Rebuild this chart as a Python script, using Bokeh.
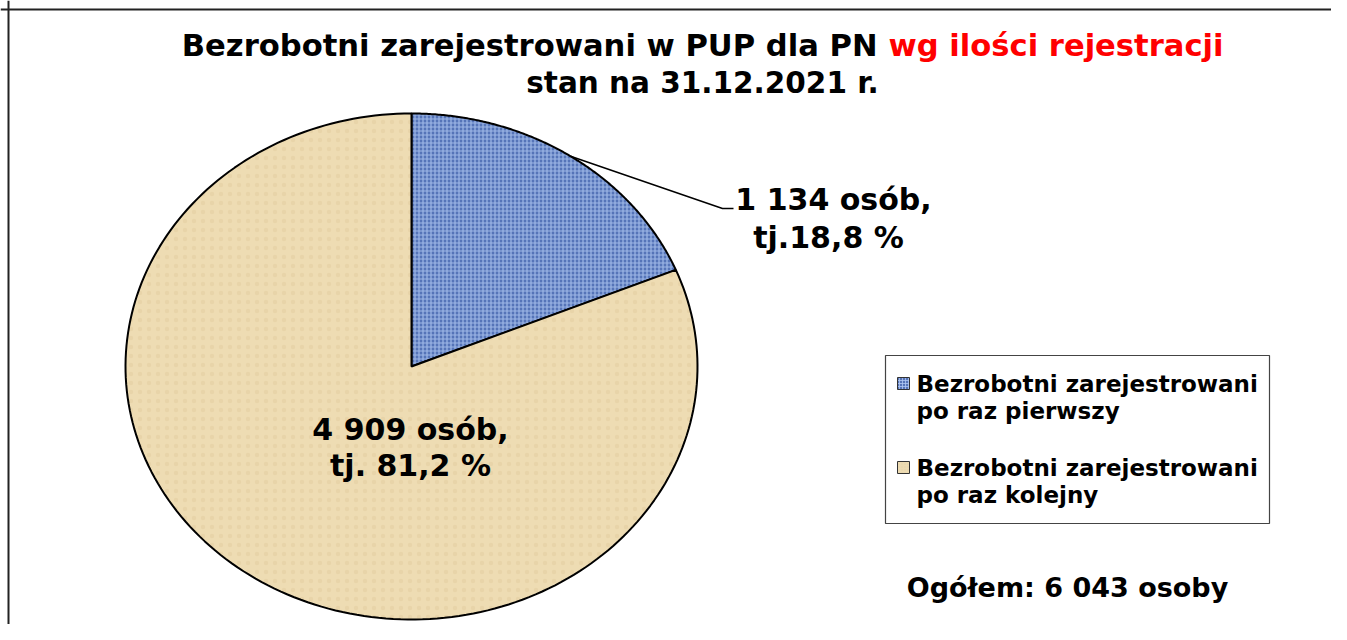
import numpy as np
from bokeh.plotting import figure
from bokeh.models import Range1d, Span, ColumnDataSource
from bokeh.core.properties import value
from bokeh.embed import file_html
from bokeh.resources import INLINE

# ---- data ----
categories = ["Bezrobotni zarejestrowani\npo raz pierwszy",
              "Bezrobotni zarejestrowani\npo raz kolejny"]
counts = [1134, 4909]
percents = ["18,8", "81,2"]
label_line1 = ["1 134 osób,", "4 909 osób,"]
label_line2 = ["tj.18,8 %", "tj. 81,2 %"]
total_label = "Ogółem: 6 043 osoby"
title_black = "Bezrobotni zarejestrowani w PUP dla PN"
title_red = "wg ilości rejestracji"
subtitle = "stan na 31.12.2021 r."

# ---- styles / layout ----
W, H = 1331, 624
FONT = value("DejaVu Sans")
fills = ["#5574b8", "#eedcb3"]
hatch_pat = ["cross", "dot"]
hatch_col = ["#b0c8f2", "#dcc596"]
hatch_alpha = [0.8, 0.35]
hatch_scale = [4, 9]
cx, cy, rx, ry = 411, 366, 286, 253

p = figure(width=W, height=H, output_backend="svg", toolbar_location=None,
           x_range=Range1d(0, W), y_range=Range1d(H, 0),
           min_border=0, outline_line_color=None)
p.axis.visible = False
p.grid.visible = False
p.background_fill_color = "white"

# frame lines (top and left)
p.add_layout(Span(location=9, dimension="width", line_color="#222222", line_width=2))
p.add_layout(Span(location=8, dimension="height", line_color="#222222", line_width=2))

# ---- pie (elliptical) ----
vals = np.array(counts, dtype=float)
fr = vals / vals.sum()
ends = np.cumsum(fr) * 2 * np.pi
starts = ends - fr * 2 * np.pi
xs, ys = [], []
for a0, a1 in zip(starts, ends):
    t = np.linspace(a0, a1, 200)
    xs.append(np.concatenate([[cx], cx + rx * np.sin(t), [cx]]))
    ys.append(np.concatenate([[cy], cy - ry * np.cos(t), [cy]]))
src = ColumnDataSource(dict(xs=xs, ys=ys, fill=fills, hp=hatch_pat, hc=hatch_col,
                            ha=hatch_alpha, hs=hatch_scale))
p.patches("xs", "ys", source=src, fill_color="fill", line_color="black", line_width=2,
          hatch_pattern="hp", hatch_color="hc", hatch_alpha="ha", hatch_scale="hs",
          hatch_weight=1.2)

# ---- labels ----
mid = (starts[0] + ends[0]) / 2
ex, ey = cx + rx * np.sin(mid), cy - ry * np.cos(mid)
p.line([ex, 722, 733], [ey, 208, 208], line_color="black", line_width=1.5)

p.text([833, 828], [199, 237], text=[label_line1[0], label_line2[0]],
       text_font=FONT, text_font_style="bold", text_font_size="30px",
       text_align="center", text_baseline="middle", text_color="black")
p.text([410, 410], [429, 465], text=[label_line1[1], label_line2[1]],
       text_font=FONT, text_font_style="bold", text_font_size="30px",
       text_align="center", text_baseline="middle", text_color="black")

# ---- title ----
p.text([877], [45], text=[title_black], text_font=FONT, text_font_style="bold",
       text_font_size="30.6px", text_align="right", text_baseline="middle", text_color="black")
p.text([888], [45], text=[title_red], text_font=FONT, text_font_style="bold",
       text_font_size="30.6px", text_align="left", text_baseline="middle", text_color="#ff0000")
p.text([702], [82], text=[subtitle], text_font=FONT, text_font_style="bold",
       text_font_size="29.5px", text_align="center", text_baseline="middle", text_color="black")

# ---- legend (drawn) ----
p.quad(left=[885], right=[1269], top=[355], bottom=[523], fill_color="white",
       line_color="#444444", line_width=1.2)
leg_y = [383, 467]
lsrc = ColumnDataSource(dict(x=[903, 903], y=leg_y, fill=fills, hp=hatch_pat, hc=hatch_col,
                             ha=hatch_alpha))
p.rect("x", "y", width=12, height=12, source=lsrc, fill_color="fill", line_color="#333333",
       line_width=1, hatch_pattern="hp", hatch_color="hc", hatch_alpha="ha", hatch_scale=3)
for i, cat in enumerate(categories):
    lines = cat.split("\n")
    p.text([916, 916], [leg_y[i], leg_y[i] + 27], text=lines, text_font=FONT,
           text_font_style="bold", text_font_size="23px", text_align="left",
           text_baseline="middle", text_color="black")

p.text([1067], [587], text=[total_label], text_font=FONT, text_font_style="bold",
       text_font_size="27px", text_align="center", text_baseline="middle", text_color="black")

open("out.html", "w").write(file_html(p, INLINE))
